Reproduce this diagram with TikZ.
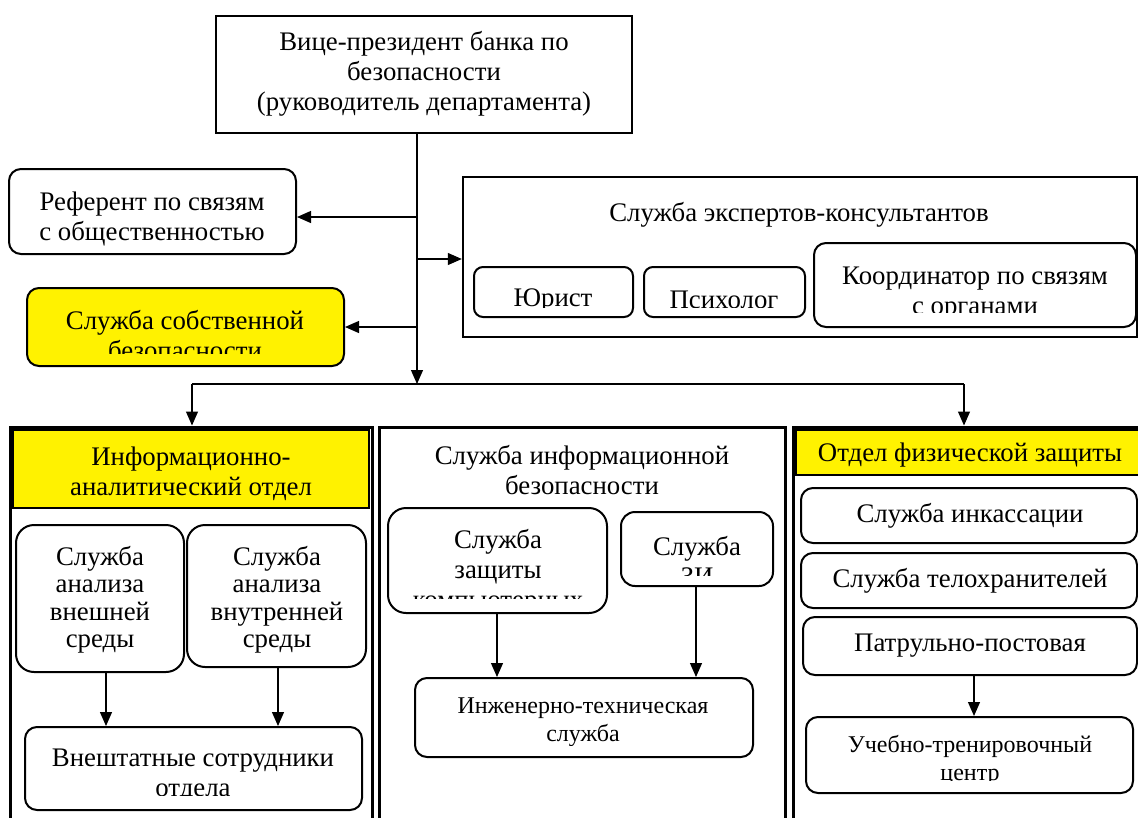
\documentclass[tikz,border=0pt]{standalone}
\usepackage{fontspec}
\setmainfont{Liberation Serif}
\usetikzlibrary{arrows.meta,fit}
\begin{document}
\begin{tikzpicture}[x=1pt,y=-1pt,
  frame/.style={draw,line width=2.4pt,inner sep=0pt},
  colframe/.style={draw,line width=3pt,inner sep=0pt},
  rbox/.style={draw,line width=2pt,rounded corners=12pt,inner sep=0pt},
  head/.style={draw,fill=yellow,line width=1.2pt,inner sep=0pt},
  txt/.style={align=center,inner sep=0pt,font=\fontsize{26.8}{30}\selectfont},
  small/.style={font=\fontsize{24}{28}\selectfont},
  tight/.style={font=\fontsize{26.8}{27.5}\selectfont},
  arr/.style={line width=1.2pt,-{Triangle[length=14pt,width=12pt]}},
  wire/.style={line width=1.2pt}]
\useasboundingbox (0,0) rectangle (1138,817);
\clip (0,0) rectangle (1138,817);

% ---- head of the department
\node[frame,fit={(216,16)(632,133)}] (vp) {};
\node[txt] (vpt) at (424,74) {Вице-президент банка по\\безопасности\\(руководитель департамента)};

% ---- spine and branch points
\coordinate (s1) at (417,217);
\coordinate (s2) at (417,259);
\coordinate (s3) at (417,327);
\coordinate (bar) at (417,384);
\coordinate (barL) at (192,384);
\coordinate (barR) at (964,384);

% ---- public relations referent
\node[rbox,fit={(9,169)(296,254)}] (ref) {};
\node[txt] (reft) at (152,219) {Референт по связям\\с общественностью};

% ---- internal security service (text cut by its box)
\node[rbox,fill=yellow,fit={(27,288)(344,366)}] (sb) {};
\begin{scope}
  \clip (27,288) rectangle (344,353);
  \node[txt] (sbt) at (185,335) {Служба собственной\\безопасности};
\end{scope}

% ---- experts and consultants
\node[frame,fit={(463,177)(1137,337)}] (exp) {};
\node[txt] (expt) at (799,215) {Служба экспертов-консультантов};
\node[rbox,rounded corners=9pt,fit={(474,267)(633,317)}] (jur) {};
\node[rbox,rounded corners=9pt,fit={(644,267)(805,317)}] (psy) {};
\node[rbox,fit={(814,243)(1136,327)}] (crd) {};
\begin{scope}
  \clip (474,267) rectangle (633,307);
  \node[txt] (jurt) at (553,300) {Юрист};
\end{scope}
\begin{scope}
  \clip (644,267) rectangle (805,307);
  \node[txt] (psyt) at (724,300) {Психолог};
\end{scope}
\begin{scope}
  \clip (814,243) rectangle (1136,312);
  \node[txt] (crdt) at (975,294) {Координатор по связям\\с органами};
\end{scope}

% ---- connectors from the head
\draw[arr] (vp.south -| bar) -- (bar);
\draw[arr] (s1) -- (s1 -| ref.east);
\draw[arr] (s2) -- (s2 -| exp.west);
\draw[arr] (s3) -- (s3 -| sb.east);
\draw[wire] (barL) -- (barR);

% ---- information and analysis department
\node[colframe,fit={(10,427)(372,840)}] (colL) {};
\node[head,fit={(13,430)(369,508)}] (hL) {};
\node[txt] (hLt) at (191,474) {Информационно-\\аналитический отдел};
\node[rbox,rounded corners=18pt,fit={(16,525)(184,672)}] (a1) {};
\node[txt,tight] (a1t) at (100,600) {Служба\\анализа\\внешней\\среды};
\node[rbox,rounded corners=18pt,fit={(187,525)(366,667)}] (a2) {};
\node[txt,tight] (a2t) at (277,600) {Служба\\анализа\\внутренней\\среды};
\node[rbox,fit={(25,727)(362,810)}] (ext) {};
\begin{scope}
  \clip (25,727) rectangle (362,795);
  \node[txt] (extt) at (193,775) {Внештатные сотрудники\\отдела};
\end{scope}
\coordinate (a1x) at (106,0);
\coordinate (a2x) at (278,0);
\draw[arr] (a1.south -| a1x) -- (ext.north -| a1x);
\draw[arr] (a2.south -| a2x) -- (ext.north -| a2x);

% ---- information security service
\node[colframe,fit={(379,427)(785,840)}] (colM) {};
\node[txt] (colMt) at (582,470) {Служба информационной\\безопасности};
\node[rbox,rounded corners=18pt,fit={(388,508)(607,613)}] (m1) {};
\begin{scope}
  \clip (388,508) rectangle (607,598);
  \node[txt] (m1t) at (498,572) {Служба\\защиты\\компьютерных};
\end{scope}
\node[rbox,rounded corners=14pt,fit={(621,512)(773,586)}] (m2) {};
\begin{scope}
  \clip (621,512) rectangle (773,575);
  \node[txt] (m2t) at (697,561) {Служба\\ЗИ};
\end{scope}
\node[rbox,fit={(415,678)(753,757)}] (eng) {};
\begin{scope}
  \clip (415,678) rectangle (753,745);
  \node[txt,small] (engt) at (583,722) {Инженерно-техническая\\служба};
\end{scope}
\coordinate (m1x) at (497,0);
\coordinate (m2x) at (696,0);
\draw[arr] (m1.south -| m1x) -- (eng.north -| m1x);
\draw[arr] (m2.south -| m2x) -- (eng.north -| m2x);

% ---- physical protection department
\node[colframe,fit={(793,427)(1160,840)}] (colR) {};
\node[head,fit={(796,430)(1160,475)}] (hR) {};
\node[txt] (hRt) at (970,455) {Отдел физической защиты};
\node[rbox,fit={(801,488)(1137,543)}] (r1) {};
\node[txt] (r1t) at (970,516) {Служба инкассации};
\node[rbox,fit={(801,553)(1137,608)}] (r2) {};
\node[txt] (r2t) at (970,581) {Служба телохранителей};
\node[rbox,fit={(803,617)(1137,675)}] (r3) {};
\node[txt] (r3t) at (970,646) {Патрульно-постовая};
\node[rbox,fit={(806,717)(1133,793)}] (r4) {};
\begin{scope}
  \clip (806,717) rectangle (1133,780);
  \node[txt,small] (r4t) at (970,760) {Учебно-тренировочный\\центр};
\end{scope}
\coordinate (r3x) at (974,0);
\draw[arr] (r3.south -| r3x) -- (r4.north -| r3x);

% ---- connectors to the departments
\draw[arr] (barL) -- (barL |- colL.north);
\draw[arr] (barR) -- (barR |- colR.north);
\end{tikzpicture}
\end{document}
